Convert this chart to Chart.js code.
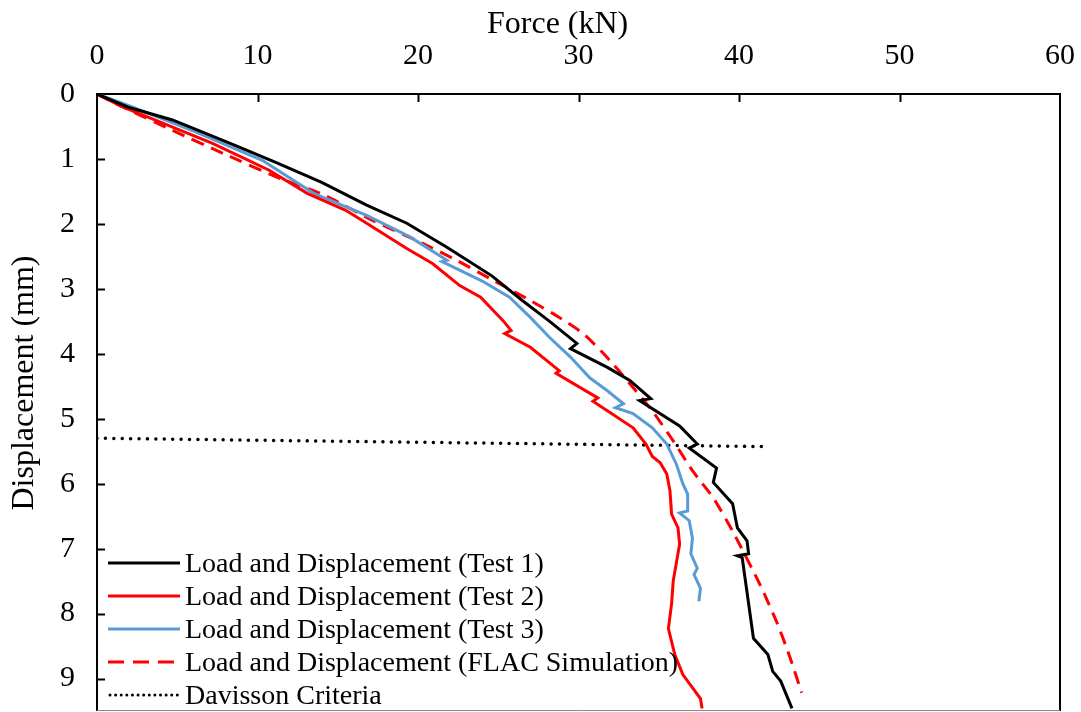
<!DOCTYPE html>
<html>
<head>
<meta charset="utf-8">
<script src="https://cdn.jsdelivr.net/npm/chart.js@4/dist/chart.umd.min.js"></script>
<style>
  body { margin: 0; background: #fff; }
  #wrap { position: relative; width: 1081px; height: 712px; }
  #legend { position: absolute; left: 108px; top: 546px; font-family: "Liberation Serif", "Times New Roman", serif; font-size: 28px; color: #000; }
  #legend .row { height: 33px; line-height: 33px; display: flex; align-items: center; white-space: nowrap; }
  #legend svg { width: 72px; height: 8px; margin-right: 5px; }
</style>
</head>
<body>
<div id="wrap">
  <canvas id="myChart" width="1081" height="712"></canvas>
  <div id="legend"></div>
</div>
<script>
// Test 1 (black)
var test1Force = [0, 1.9, 4.7, 6.5, 8.6, 11.1, 14.0, 16.8, 19.3, 21.8, 24.6, 26.5, 28.2, 29.9, 29.5, 31.8, 33.2, 34.5, 33.8, 36.3, 37.4, 36.9, 38.6, 38.4, 39.6, 39.9, 40.5, 40.6, 39.9, 40.2, 40.9, 41.8, 42.1, 42.6, 43.3];
var test1Disp  = [0, 0.20, 0.40, 0.58, 0.79, 1.05, 1.36, 1.71, 1.99, 2.36, 2.80, 3.18, 3.50, 3.84, 3.92, 4.21, 4.41, 4.69, 4.72, 5.11, 5.39, 5.45, 5.76, 5.98, 6.31, 6.68, 6.88, 7.08, 7.11, 7.14, 8.38, 8.63, 8.89, 9.04, 9.46];

// Test 2 (red)
var test2Force = [0, 1.6, 3.6, 7.2, 10.7, 13.1, 15.5, 16.8, 19.3, 20.9, 22.6, 23.9, 25.3, 25.8, 25.4, 27.0, 28.8, 28.6, 31.2, 30.9, 33.4, 34.2, 34.6, 35.1, 35.5, 35.7, 35.8, 36.2, 36.3, 35.9, 35.8, 35.6, 36.0, 36.5, 37.6, 37.7];
var test2Disp  = [0, 0.20, 0.40, 0.76, 1.17, 1.53, 1.79, 1.99, 2.38, 2.61, 2.95, 3.13, 3.49, 3.64, 3.69, 3.90, 4.26, 4.30, 4.68, 4.73, 5.14, 5.39, 5.58, 5.68, 5.85, 6.11, 6.47, 6.68, 6.93, 7.50, 7.85, 8.23, 8.63, 8.94, 9.31, 9.46];

// Test 3 (blue)
var test3Force = [0, 1.9, 6.1, 10.3, 13.5, 16.8, 19.5, 21.8, 21.5, 24.0, 25.7, 27.0, 28.2, 29.5, 30.7, 31.8, 32.8, 32.3, 33.4, 34.6, 35.5, 36.1, 36.5, 36.8, 36.8, 36.3, 36.9, 37.1, 37.0, 37.4, 37.2, 37.6, 37.5];
var test3Disp  = [0, 0.17, 0.58, 1.02, 1.53, 1.87, 2.20, 2.56, 2.58, 2.88, 3.13, 3.44, 3.75, 4.05, 4.37, 4.57, 4.77, 4.83, 4.92, 5.14, 5.39, 5.70, 6.00, 6.16, 6.42, 6.45, 6.57, 6.84, 7.08, 7.30, 7.40, 7.61, 7.81];

// FLAC simulation (red dashed)
var flacForce = [0, 1.6, 4.7, 7.9, 11.2, 14.1, 17.2, 20.3, 22.4, 24.7, 27.0, 28.8, 30.3, 31.8, 33.2, 34.6, 35.9, 37.1, 38.4, 39.6, 41.3, 42.4, 43.2, 43.9];
var flacDisp  = [0, 0.20, 0.56, 0.92, 1.28, 1.55, 1.95, 2.30, 2.56, 2.87, 3.18, 3.44, 3.69, 4.06, 4.46, 4.88, 5.34, 5.80, 6.22, 6.73, 7.55, 8.16, 8.69, 9.22];

// Davisson criteria (dotted)
var davForce = [0, 41.8];
var davDisp  = [5.30, 5.43];

var xTicks = [0, 10, 20, 30, 40, 50, 60];
var yTicks = [0, 1, 2, 3, 4, 5, 6, 7, 8, 9];
var xTitle = 'Force (kN)';
var yTitle = 'Displacement (mm)';

function pts(fx, dy) {
    return fx.map(function(f, i) { return {x: f, y: dy[i]}; });
}

var serif = '"Liberation Serif", "Times New Roman", serif';

// border box + inward tick marks + axis titles (set a little off centre, as in the figure)
var frame = {
    id: 'frame',
    beforeDatasetsDraw(chart) {
        var ctx = chart.ctx, a = chart.chartArea, sx = chart.scales.x, sy = chart.scales.y;
        ctx.save();
        ctx.strokeStyle = '#000';
        ctx.lineWidth = 2;
        ctx.beginPath();
        ctx.moveTo(a.left, a.bottom);
        ctx.lineTo(a.left, a.top);
        ctx.lineTo(a.right, a.top);
        ctx.lineTo(a.right, a.bottom);
        xTicks.slice(1, -1).forEach(function(v) {
            var px = Math.round(sx.getPixelForValue(v)) + 0.5;
            ctx.moveTo(px, a.top);
            ctx.lineTo(px, a.top + 8);
        });
        yTicks.slice(1).forEach(function(v) {
            var py = Math.round(sy.getPixelForValue(v)) + 0.5;
            ctx.moveTo(a.left, py);
            ctx.lineTo(a.left + 8, py);
        });
        ctx.stroke();
        ctx.strokeStyle = '#888';
        ctx.lineWidth = 1;
        ctx.beginPath();
        ctx.moveTo(a.left, a.bottom - 0.5);
        ctx.lineTo(a.right, a.bottom - 0.5);
        ctx.stroke();

        ctx.fillStyle = '#000';
        ctx.font = '32px ' + serif;
        ctx.textAlign = 'center';
        ctx.textBaseline = 'alphabetic';
        ctx.fillText(xTitle, sx.getPixelForValue(28.7), 33);
        ctx.translate(33, sy.getPixelForValue(4.45));
        ctx.rotate(-Math.PI / 2);
        ctx.fillText(yTitle, 0, 0);
        ctx.restore();
    }
};

var ctx = document.getElementById('myChart');
var chart = new Chart(ctx, {
    type: 'scatter',
    data: {
        datasets: [{
            label: 'Load and Displacement (Test 1)',
            data: pts(test1Force, test1Disp),
            borderColor: '#000000',
            borderWidth: 3
        }, {
            label: 'Load and Displacement (Test 2)',
            data: pts(test2Force, test2Disp),
            borderColor: '#ff0000',
            borderWidth: 3
        }, {
            label: 'Load and Displacement (Test 3)',
            data: pts(test3Force, test3Disp),
            borderColor: '#5b9bd5',
            borderWidth: 3
        }, {
            label: 'Load and Displacement (FLAC Simulation)',
            data: pts(flacForce, flacDisp),
            borderColor: '#ff0000',
            borderWidth: 3,
            borderDash: [13, 8],
            tension: 0.2
        }, {
            label: 'Davisson Criteria',
            data: pts(davForce, davDisp),
            borderColor: '#000000',
            borderWidth: 3.5,
            borderDash: [0.01, 8.4],
            borderCapStyle: 'round'
        }]
    },
    options: {
        responsive: false,
        animation: false,
        showLine: true,
        layout: {
            padding: { top: 0, left: 0, right: 21, bottom: 1 }
        },
        elements: {
            point: { radius: 0, hoverRadius: 0 },
            line: { fill: false }
        },
        plugins: {
            legend: { display: false },
            tooltip: { enabled: false }
        },
        scales: {
            x: {
                type: 'linear',
                position: 'top',
                min: 0,
                max: 60,
                afterFit: function(s) { s.height = 94; s.paddingLeft = 0; s.paddingRight = 0; },
                afterBuildTicks: function(s) { s.ticks = xTicks.map(function(v) { return {value: v}; }); },
                grid: { display: true, drawOnChartArea: false, drawTicks: false },
                border: { display: false },
                ticks: {
                    padding: 20,
                    color: '#000',
                    font: { family: serif, size: 30 }
                },
                title: { display: false }
            },
            y: {
                type: 'linear',
                reverse: true,
                min: 0,
                max: 9.5,
                afterFit: function(s) { s.width = 97; s.paddingTop = 0; s.paddingBottom = 0; },
                afterBuildTicks: function(s) { s.ticks = yTicks.map(function(v) { return {value: v}; }); },
                grid: { display: true, drawOnChartArea: false, drawTicks: false },
                border: { display: false },
                ticks: {
                    padding: 22,
                    color: '#000',
                    font: { family: serif, size: 30 }
                },
                title: { display: false }
            }
        }
    },
    plugins: [frame]
});

// legend built from the datasets, placed inside the plot area
var legend = document.getElementById('legend');
chart.data.datasets.forEach(function(ds) {
    var row = document.createElement('div');
    row.className = 'row';
    var dash = '';
    var cap = 'butt';
    var w = ds.borderWidth;
    if (ds.label.indexOf('FLAC') >= 0) dash = '16 9';
    if (ds.label.indexOf('Davisson') >= 0) { dash = '0.01 5.6'; cap = 'round'; w = 3; }
    row.innerHTML = '<svg viewBox="0 0 72 8"><line x1="' + (cap === 'round' ? 2 : 0) + '" y1="4" x2="72" y2="4" stroke="' + ds.borderColor +
        '" stroke-width="' + w + '" stroke-linecap="' + cap + '"' + (dash ? ' stroke-dasharray="' + dash + '"' : '') + '/></svg>' +
        '<span>' + ds.label + '</span>';
    legend.appendChild(row);
});
</script>
</body>
</html>
